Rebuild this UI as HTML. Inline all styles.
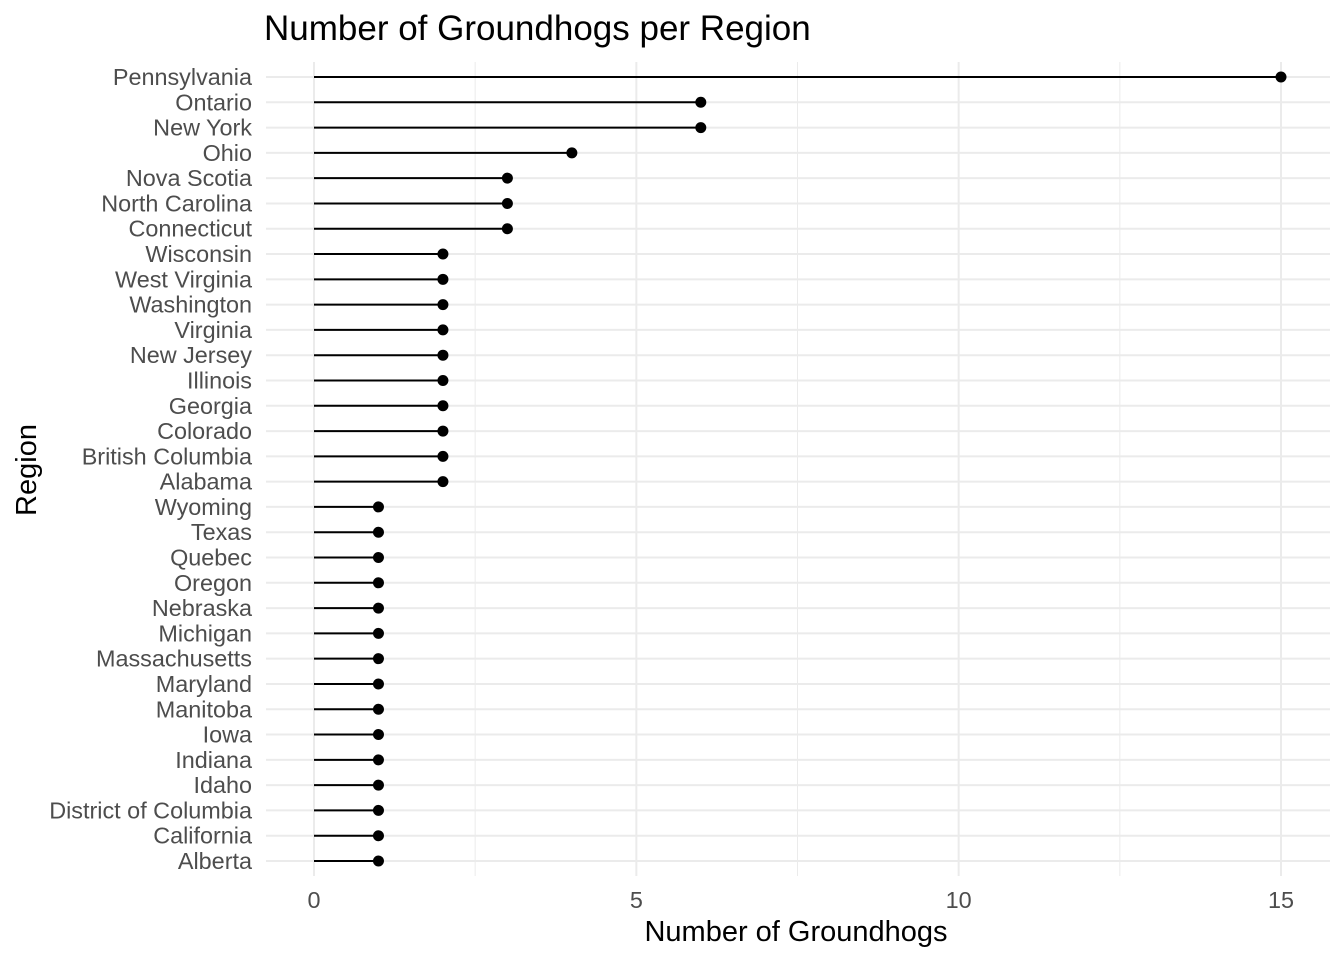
<!DOCTYPE html>
<html><head><meta charset="utf-8"><style>
body{margin:0;background:#fff;}
svg{display:block;font-family:"Liberation Sans",Arial,sans-serif;}
</style></head><body>
<svg id="chart" width="1344" height="960">
<text x="264" y="40" font-size="35" fill="#000">Number of Groundhogs per Region</text>
<text x="796" y="941" font-size="29" text-anchor="middle" fill="#000">Number of Groundhogs</text>
<text transform="translate(36,470) rotate(-90)" font-size="29" text-anchor="middle" fill="#000">Region</text>
<g id="grid"></g><g id="marks"></g><g id="labels"></g>
</svg>
<script>
const regions=["Pennsylvania","Ontario","New York","Ohio","Nova Scotia","North Carolina","Connecticut","Wisconsin","West Virginia","Washington","Virginia","New Jersey","Illinois","Georgia","Colorado","British Columbia","Alabama","Wyoming","Texas","Quebec","Oregon","Nebraska","Michigan","Massachusetts","Maryland","Manitoba","Iowa","Indiana","Idaho","District of Columbia","California","Alberta"];
const counts=[15,6,6,4,3,3,3,2,2,2,2,2,2,2,2,2,2,1,1,1,1,1,1,1,1,1,1,1,1,1,1,1];
const xTicks=[0,5,10,15];
const xMinor=[2.5,7.5,12.5];
const NS="http://www.w3.org/2000/svg";
const panelLeft=266,panelRight=1330,panelTop=62,panelBottom=876;
function xs(v){return 314+v*(1281-314)/15;}
function ys(i){return 77+i*(861-77)/(regions.length-1);}
function mk(t,a,p){const e=document.createElementNS(NS,t);for(const k in a)e.setAttribute(k,a[k]);p.appendChild(e);return e;}
const grid=document.getElementById('grid'),marks=document.getElementById('marks'),labels=document.getElementById('labels');
xMinor.forEach(v=>{const l=mk('line',{x1:xs(v),x2:xs(v),y1:panelTop,y2:panelBottom,stroke:'#ebebeb','stroke-width':1},grid);

});
xTicks.forEach(v=>{const l=mk('line',{x1:xs(v),x2:xs(v),y1:panelTop,y2:panelBottom,stroke:'#ebebeb','stroke-width':2},grid);


const t=mk('text',{x:xs(v),y:908,'font-size':23.4,'text-anchor':'middle',fill:'#4d4d4d'},labels);t.textContent=v;

});
regions.forEach((r,i)=>{const y=ys(i);
const g=mk('line',{x1:panelLeft,x2:panelRight,y1:y,y2:y,stroke:'#ebebeb','stroke-width':2},grid);


const s=mk('line',{x1:xs(0),x2:xs(counts[i]),y1:y,y2:y,stroke:'#000','stroke-width':2},marks);


const c=mk('circle',{cx:xs(counts[i]),cy:y,r:5.5,fill:'#000'},marks);


const t=mk('text',{x:252,y:y+8,'font-size':23.4,'text-anchor':'end',fill:'#4d4d4d'},labels);t.textContent=r;

});
</script>
</body></html>
